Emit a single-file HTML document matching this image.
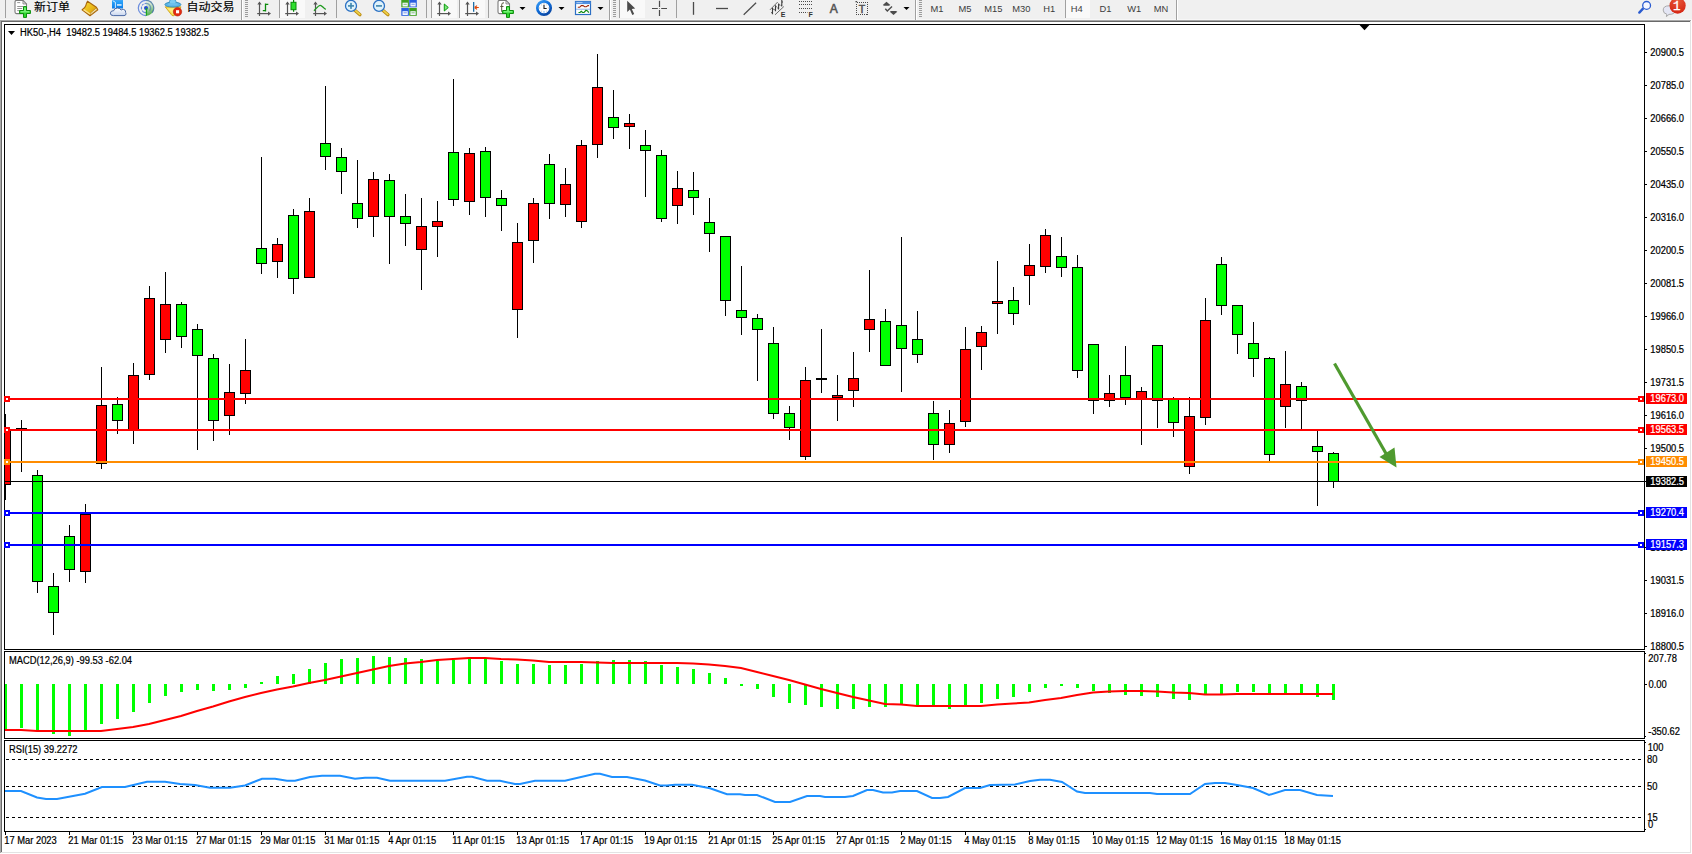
<!DOCTYPE html>
<html lang="zh"><head><meta charset="utf-8"><title>HK50-,H4</title>
<style>html,body{margin:0;padding:0;background:#fff;overflow:hidden}body{width:1692px;height:854px}svg{display:block}text{white-space:pre}</style></head>
<body>
<svg width="1692" height="854" viewBox="0 0 1692 854" font-family='"Liberation Sans", sans-serif' font-size="9.35" shape-rendering="crispEdges">
<rect x="0" y="0" width="1692" height="854" fill="#fff"/>
<rect x="0" y="0" width="1692" height="20" fill="#f0f0f0"/>
<rect x="0" y="19" width="1692" height="1" fill="#f7f7f7"/>
<rect x="0" y="20" width="1691" height="1" fill="#a8a8a8"/>
<rect x="1" y="21" width="1689" height="1" fill="#696969"/>
<rect x="0" y="20" width="1" height="834" fill="#a8a8a8"/>
<rect x="1" y="21" width="1" height="833" fill="#696969"/>
<rect x="1690" y="21" width="1" height="832" fill="#e3e3e3"/>
<rect x="1691" y="20" width="1" height="834" fill="#ffffff"/>
<rect x="1" y="852" width="1690" height="1" fill="#e3e3e3"/>
<rect x="0" y="853" width="1692" height="1" fill="#ffffff"/>
<rect x="4" y="24" width="1641" height="1" fill="#000"/>
<rect x="4" y="649" width="1641" height="1" fill="#000"/>
<rect x="4" y="24" width="1" height="626" fill="#000"/>
<rect x="1644" y="24" width="1" height="626" fill="#000"/>
<rect x="4" y="651" width="1641" height="1" fill="#000"/>
<rect x="4" y="738" width="1641" height="1" fill="#000"/>
<rect x="4" y="651" width="1" height="88" fill="#000"/>
<rect x="1644" y="651" width="1" height="88" fill="#000"/>
<rect x="4" y="740" width="1641" height="1" fill="#000"/>
<rect x="4" y="831" width="1641" height="1" fill="#000"/>
<rect x="4" y="740" width="1" height="92" fill="#000"/>
<rect x="1644" y="740" width="1" height="92" fill="#000"/>
<rect x="1645" y="653" width="1" height="1" fill="#000"/>
<rect x="1645" y="736" width="1" height="1" fill="#000"/>
<rect x="1645" y="742" width="1" height="1" fill="#000"/>
<rect x="1645" y="829" width="1" height="1" fill="#000"/>
<clipPath id="cm"><rect x="5" y="25" width="1639" height="624"/></clipPath>
<g clip-path="url(#cm)">
<rect x="5" y="414" width="1" height="86" fill="#000"/>
<rect x="0" y="430" width="11" height="55" fill="#000"/>
<rect x="1" y="431" width="9" height="53" fill="#ff0000"/>
<rect x="21" y="420" width="1" height="52" fill="#000"/>
<rect x="16" y="428" width="11" height="1" fill="#000"/>
<rect x="37" y="470" width="1" height="123" fill="#000"/>
<rect x="32" y="475" width="11" height="107" fill="#000"/>
<rect x="33" y="476" width="9" height="105" fill="#00ff00"/>
<rect x="53" y="573" width="1" height="62" fill="#000"/>
<rect x="48" y="586" width="11" height="27" fill="#000"/>
<rect x="49" y="587" width="9" height="25" fill="#00ff00"/>
<rect x="69" y="525" width="1" height="57" fill="#000"/>
<rect x="64" y="536" width="11" height="34" fill="#000"/>
<rect x="65" y="537" width="9" height="32" fill="#00ff00"/>
<rect x="85" y="504" width="1" height="79" fill="#000"/>
<rect x="80" y="514" width="11" height="58" fill="#000"/>
<rect x="81" y="515" width="9" height="56" fill="#ff0000"/>
<rect x="101" y="367" width="1" height="102" fill="#000"/>
<rect x="96" y="405" width="11" height="59" fill="#000"/>
<rect x="97" y="406" width="9" height="57" fill="#ff0000"/>
<rect x="117" y="397" width="1" height="37" fill="#000"/>
<rect x="112" y="404" width="11" height="17" fill="#000"/>
<rect x="113" y="405" width="9" height="15" fill="#00ff00"/>
<rect x="133" y="363" width="1" height="81" fill="#000"/>
<rect x="128" y="375" width="11" height="55" fill="#000"/>
<rect x="129" y="376" width="9" height="53" fill="#ff0000"/>
<rect x="149" y="286" width="1" height="94" fill="#000"/>
<rect x="144" y="298" width="11" height="77" fill="#000"/>
<rect x="145" y="299" width="9" height="75" fill="#ff0000"/>
<rect x="165" y="272" width="1" height="81" fill="#000"/>
<rect x="160" y="304" width="11" height="36" fill="#000"/>
<rect x="161" y="305" width="9" height="34" fill="#ff0000"/>
<rect x="181" y="302" width="1" height="46" fill="#000"/>
<rect x="176" y="304" width="11" height="33" fill="#000"/>
<rect x="177" y="305" width="9" height="31" fill="#00ff00"/>
<rect x="197" y="324" width="1" height="126" fill="#000"/>
<rect x="192" y="329" width="11" height="27" fill="#000"/>
<rect x="193" y="330" width="9" height="25" fill="#00ff00"/>
<rect x="213" y="354" width="1" height="87" fill="#000"/>
<rect x="208" y="358" width="11" height="63" fill="#000"/>
<rect x="209" y="359" width="9" height="61" fill="#00ff00"/>
<rect x="229" y="364" width="1" height="71" fill="#000"/>
<rect x="224" y="392" width="11" height="24" fill="#000"/>
<rect x="225" y="393" width="9" height="22" fill="#ff0000"/>
<rect x="245" y="339" width="1" height="65" fill="#000"/>
<rect x="240" y="370" width="11" height="24" fill="#000"/>
<rect x="241" y="371" width="9" height="22" fill="#ff0000"/>
<rect x="261" y="157" width="1" height="117" fill="#000"/>
<rect x="256" y="248" width="11" height="16" fill="#000"/>
<rect x="257" y="249" width="9" height="14" fill="#00ff00"/>
<rect x="277" y="238" width="1" height="40" fill="#000"/>
<rect x="272" y="244" width="11" height="18" fill="#000"/>
<rect x="273" y="245" width="9" height="16" fill="#ff0000"/>
<rect x="293" y="209" width="1" height="85" fill="#000"/>
<rect x="288" y="215" width="11" height="64" fill="#000"/>
<rect x="289" y="216" width="9" height="62" fill="#00ff00"/>
<rect x="309" y="198" width="1" height="80" fill="#000"/>
<rect x="304" y="211" width="11" height="67" fill="#000"/>
<rect x="305" y="212" width="9" height="65" fill="#ff0000"/>
<rect x="325" y="86" width="1" height="84" fill="#000"/>
<rect x="320" y="143" width="11" height="14" fill="#000"/>
<rect x="321" y="144" width="9" height="12" fill="#00ff00"/>
<rect x="341" y="148" width="1" height="46" fill="#000"/>
<rect x="336" y="157" width="11" height="15" fill="#000"/>
<rect x="337" y="158" width="9" height="13" fill="#00ff00"/>
<rect x="357" y="160" width="1" height="68" fill="#000"/>
<rect x="352" y="203" width="11" height="16" fill="#000"/>
<rect x="353" y="204" width="9" height="14" fill="#00ff00"/>
<rect x="373" y="172" width="1" height="65" fill="#000"/>
<rect x="368" y="179" width="11" height="38" fill="#000"/>
<rect x="369" y="180" width="9" height="36" fill="#ff0000"/>
<rect x="389" y="174" width="1" height="90" fill="#000"/>
<rect x="384" y="180" width="11" height="37" fill="#000"/>
<rect x="385" y="181" width="9" height="35" fill="#00ff00"/>
<rect x="405" y="194" width="1" height="52" fill="#000"/>
<rect x="400" y="216" width="11" height="8" fill="#000"/>
<rect x="401" y="217" width="9" height="6" fill="#00ff00"/>
<rect x="421" y="198" width="1" height="92" fill="#000"/>
<rect x="416" y="226" width="11" height="24" fill="#000"/>
<rect x="417" y="227" width="9" height="22" fill="#ff0000"/>
<rect x="437" y="201" width="1" height="56" fill="#000"/>
<rect x="432" y="221" width="11" height="6" fill="#000"/>
<rect x="433" y="222" width="9" height="4" fill="#ff0000"/>
<rect x="453" y="79" width="1" height="127" fill="#000"/>
<rect x="448" y="152" width="11" height="48" fill="#000"/>
<rect x="449" y="153" width="9" height="46" fill="#00ff00"/>
<rect x="469" y="148" width="1" height="67" fill="#000"/>
<rect x="464" y="153" width="11" height="49" fill="#000"/>
<rect x="465" y="154" width="9" height="47" fill="#ff0000"/>
<rect x="485" y="147" width="1" height="70" fill="#000"/>
<rect x="480" y="151" width="11" height="47" fill="#000"/>
<rect x="481" y="152" width="9" height="45" fill="#00ff00"/>
<rect x="501" y="190" width="1" height="41" fill="#000"/>
<rect x="496" y="198" width="11" height="8" fill="#000"/>
<rect x="497" y="199" width="9" height="6" fill="#00ff00"/>
<rect x="517" y="223" width="1" height="115" fill="#000"/>
<rect x="512" y="242" width="11" height="68" fill="#000"/>
<rect x="513" y="243" width="9" height="66" fill="#ff0000"/>
<rect x="533" y="198" width="1" height="65" fill="#000"/>
<rect x="528" y="203" width="11" height="38" fill="#000"/>
<rect x="529" y="204" width="9" height="36" fill="#ff0000"/>
<rect x="549" y="154" width="1" height="65" fill="#000"/>
<rect x="544" y="164" width="11" height="40" fill="#000"/>
<rect x="545" y="165" width="9" height="38" fill="#00ff00"/>
<rect x="565" y="168" width="1" height="49" fill="#000"/>
<rect x="560" y="184" width="11" height="21" fill="#000"/>
<rect x="561" y="185" width="9" height="19" fill="#ff0000"/>
<rect x="581" y="140" width="1" height="88" fill="#000"/>
<rect x="576" y="145" width="11" height="77" fill="#000"/>
<rect x="577" y="146" width="9" height="75" fill="#ff0000"/>
<rect x="597" y="54" width="1" height="104" fill="#000"/>
<rect x="592" y="87" width="11" height="58" fill="#000"/>
<rect x="593" y="88" width="9" height="56" fill="#ff0000"/>
<rect x="613" y="90" width="1" height="49" fill="#000"/>
<rect x="608" y="117" width="11" height="11" fill="#000"/>
<rect x="609" y="118" width="9" height="9" fill="#00ff00"/>
<rect x="629" y="114" width="1" height="35" fill="#000"/>
<rect x="624" y="123" width="11" height="4" fill="#000"/>
<rect x="625" y="124" width="9" height="2" fill="#ff0000"/>
<rect x="645" y="130" width="1" height="67" fill="#000"/>
<rect x="640" y="145" width="11" height="6" fill="#000"/>
<rect x="641" y="146" width="9" height="4" fill="#00ff00"/>
<rect x="661" y="150" width="1" height="72" fill="#000"/>
<rect x="656" y="155" width="11" height="64" fill="#000"/>
<rect x="657" y="156" width="9" height="62" fill="#00ff00"/>
<rect x="677" y="171" width="1" height="53" fill="#000"/>
<rect x="672" y="188" width="11" height="18" fill="#000"/>
<rect x="673" y="189" width="9" height="16" fill="#ff0000"/>
<rect x="693" y="172" width="1" height="43" fill="#000"/>
<rect x="688" y="190" width="11" height="8" fill="#000"/>
<rect x="689" y="191" width="9" height="6" fill="#00ff00"/>
<rect x="709" y="198" width="1" height="54" fill="#000"/>
<rect x="704" y="222" width="11" height="12" fill="#000"/>
<rect x="705" y="223" width="9" height="10" fill="#00ff00"/>
<rect x="725" y="236" width="1" height="80" fill="#000"/>
<rect x="720" y="236" width="11" height="65" fill="#000"/>
<rect x="721" y="237" width="9" height="63" fill="#00ff00"/>
<rect x="741" y="266" width="1" height="69" fill="#000"/>
<rect x="736" y="310" width="11" height="8" fill="#000"/>
<rect x="737" y="311" width="9" height="6" fill="#00ff00"/>
<rect x="757" y="314" width="1" height="67" fill="#000"/>
<rect x="752" y="318" width="11" height="12" fill="#000"/>
<rect x="753" y="319" width="9" height="10" fill="#00ff00"/>
<rect x="773" y="327" width="1" height="92" fill="#000"/>
<rect x="768" y="343" width="11" height="71" fill="#000"/>
<rect x="769" y="344" width="9" height="69" fill="#00ff00"/>
<rect x="789" y="406" width="1" height="34" fill="#000"/>
<rect x="784" y="413" width="11" height="15" fill="#000"/>
<rect x="785" y="414" width="9" height="13" fill="#00ff00"/>
<rect x="805" y="367" width="1" height="93" fill="#000"/>
<rect x="800" y="380" width="11" height="77" fill="#000"/>
<rect x="801" y="381" width="9" height="75" fill="#ff0000"/>
<rect x="821" y="329" width="1" height="64" fill="#000"/>
<rect x="816" y="378" width="11" height="2" fill="#000"/>
<rect x="837" y="375" width="1" height="46" fill="#000"/>
<rect x="832" y="395" width="11" height="3" fill="#000"/>
<rect x="833" y="396" width="9" height="1" fill="#ff0000"/>
<rect x="853" y="352" width="1" height="55" fill="#000"/>
<rect x="848" y="378" width="11" height="13" fill="#000"/>
<rect x="849" y="379" width="9" height="11" fill="#ff0000"/>
<rect x="869" y="270" width="1" height="82" fill="#000"/>
<rect x="864" y="319" width="11" height="11" fill="#000"/>
<rect x="865" y="320" width="9" height="9" fill="#ff0000"/>
<rect x="885" y="309" width="1" height="57" fill="#000"/>
<rect x="880" y="321" width="11" height="45" fill="#000"/>
<rect x="881" y="322" width="9" height="43" fill="#00ff00"/>
<rect x="901" y="237" width="1" height="155" fill="#000"/>
<rect x="896" y="325" width="11" height="24" fill="#000"/>
<rect x="897" y="326" width="9" height="22" fill="#00ff00"/>
<rect x="917" y="311" width="1" height="52" fill="#000"/>
<rect x="912" y="339" width="11" height="16" fill="#000"/>
<rect x="913" y="340" width="9" height="14" fill="#00ff00"/>
<rect x="933" y="401" width="1" height="59" fill="#000"/>
<rect x="928" y="413" width="11" height="32" fill="#000"/>
<rect x="929" y="414" width="9" height="30" fill="#00ff00"/>
<rect x="949" y="410" width="1" height="43" fill="#000"/>
<rect x="944" y="423" width="11" height="22" fill="#000"/>
<rect x="945" y="424" width="9" height="20" fill="#ff0000"/>
<rect x="965" y="327" width="1" height="100" fill="#000"/>
<rect x="960" y="349" width="11" height="73" fill="#000"/>
<rect x="961" y="350" width="9" height="71" fill="#ff0000"/>
<rect x="981" y="326" width="1" height="44" fill="#000"/>
<rect x="976" y="332" width="11" height="15" fill="#000"/>
<rect x="977" y="333" width="9" height="13" fill="#ff0000"/>
<rect x="997" y="261" width="1" height="73" fill="#000"/>
<rect x="992" y="301" width="11" height="3" fill="#000"/>
<rect x="993" y="302" width="9" height="1" fill="#ff0000"/>
<rect x="1013" y="287" width="1" height="38" fill="#000"/>
<rect x="1008" y="300" width="11" height="14" fill="#000"/>
<rect x="1009" y="301" width="9" height="12" fill="#00ff00"/>
<rect x="1029" y="244" width="1" height="61" fill="#000"/>
<rect x="1024" y="265" width="11" height="11" fill="#000"/>
<rect x="1025" y="266" width="9" height="9" fill="#ff0000"/>
<rect x="1045" y="229" width="1" height="44" fill="#000"/>
<rect x="1040" y="235" width="11" height="32" fill="#000"/>
<rect x="1041" y="236" width="9" height="30" fill="#ff0000"/>
<rect x="1061" y="237" width="1" height="40" fill="#000"/>
<rect x="1056" y="256" width="11" height="12" fill="#000"/>
<rect x="1057" y="257" width="9" height="10" fill="#00ff00"/>
<rect x="1077" y="255" width="1" height="123" fill="#000"/>
<rect x="1072" y="267" width="11" height="104" fill="#000"/>
<rect x="1073" y="268" width="9" height="102" fill="#00ff00"/>
<rect x="1093" y="344" width="1" height="70" fill="#000"/>
<rect x="1088" y="344" width="11" height="57" fill="#000"/>
<rect x="1089" y="345" width="9" height="55" fill="#00ff00"/>
<rect x="1109" y="375" width="1" height="32" fill="#000"/>
<rect x="1104" y="393" width="11" height="8" fill="#000"/>
<rect x="1105" y="394" width="9" height="6" fill="#ff0000"/>
<rect x="1125" y="346" width="1" height="59" fill="#000"/>
<rect x="1120" y="375" width="11" height="23" fill="#000"/>
<rect x="1121" y="376" width="9" height="21" fill="#00ff00"/>
<rect x="1141" y="387" width="1" height="58" fill="#000"/>
<rect x="1136" y="391" width="11" height="8" fill="#000"/>
<rect x="1137" y="392" width="9" height="6" fill="#ff0000"/>
<rect x="1157" y="345" width="1" height="83" fill="#000"/>
<rect x="1152" y="345" width="11" height="56" fill="#000"/>
<rect x="1153" y="346" width="9" height="54" fill="#00ff00"/>
<rect x="1173" y="397" width="1" height="40" fill="#000"/>
<rect x="1168" y="399" width="11" height="24" fill="#000"/>
<rect x="1169" y="400" width="9" height="22" fill="#00ff00"/>
<rect x="1189" y="397" width="1" height="77" fill="#000"/>
<rect x="1184" y="416" width="11" height="51" fill="#000"/>
<rect x="1185" y="417" width="9" height="49" fill="#ff0000"/>
<rect x="1205" y="298" width="1" height="127" fill="#000"/>
<rect x="1200" y="320" width="11" height="98" fill="#000"/>
<rect x="1201" y="321" width="9" height="96" fill="#ff0000"/>
<rect x="1221" y="257" width="1" height="58" fill="#000"/>
<rect x="1216" y="264" width="11" height="42" fill="#000"/>
<rect x="1217" y="265" width="9" height="40" fill="#00ff00"/>
<rect x="1237" y="305" width="1" height="49" fill="#000"/>
<rect x="1232" y="305" width="11" height="30" fill="#000"/>
<rect x="1233" y="306" width="9" height="28" fill="#00ff00"/>
<rect x="1253" y="322" width="1" height="55" fill="#000"/>
<rect x="1248" y="343" width="11" height="16" fill="#000"/>
<rect x="1249" y="344" width="9" height="14" fill="#00ff00"/>
<rect x="1269" y="357" width="1" height="104" fill="#000"/>
<rect x="1264" y="358" width="11" height="97" fill="#000"/>
<rect x="1265" y="359" width="9" height="95" fill="#00ff00"/>
<rect x="1285" y="351" width="1" height="77" fill="#000"/>
<rect x="1280" y="384" width="11" height="23" fill="#000"/>
<rect x="1281" y="385" width="9" height="21" fill="#ff0000"/>
<rect x="1301" y="382" width="1" height="47" fill="#000"/>
<rect x="1296" y="386" width="11" height="15" fill="#000"/>
<rect x="1297" y="387" width="9" height="13" fill="#00ff00"/>
<rect x="1317" y="430" width="1" height="76" fill="#000"/>
<rect x="1312" y="446" width="11" height="6" fill="#000"/>
<rect x="1313" y="447" width="9" height="4" fill="#00ff00"/>
<rect x="1333" y="452" width="1" height="36" fill="#000"/>
<rect x="1328" y="453" width="11" height="29" fill="#000"/>
<rect x="1329" y="454" width="9" height="27" fill="#00ff00"/>
<rect x="5" y="398" width="1639" height="2" fill="#ff0000"/>
<rect x="5" y="429" width="1639" height="2" fill="#ff0000"/>
<rect x="5" y="461" width="1639" height="2" fill="#ff8c00"/>
<rect x="5" y="512" width="1639" height="2" fill="#0000ff"/>
<rect x="5" y="544" width="1639" height="2" fill="#0000ff"/>
<rect x="5" y="481" width="1639" height="1" fill="#000"/>
</g>
<rect x="4" y="396" width="6" height="6" fill="#ff0000"/>
<rect x="6" y="398" width="2" height="2" fill="#fff"/>
<rect x="1638" y="396" width="6" height="6" fill="#ff0000"/>
<rect x="1640" y="398" width="2" height="2" fill="#fff"/>
<rect x="4" y="427" width="6" height="6" fill="#ff0000"/>
<rect x="6" y="429" width="2" height="2" fill="#fff"/>
<rect x="1638" y="427" width="6" height="6" fill="#ff0000"/>
<rect x="1640" y="429" width="2" height="2" fill="#fff"/>
<rect x="4" y="459" width="6" height="6" fill="#ff8c00"/>
<rect x="6" y="461" width="2" height="2" fill="#fff"/>
<rect x="1638" y="459" width="6" height="6" fill="#ff8c00"/>
<rect x="1640" y="461" width="2" height="2" fill="#fff"/>
<rect x="4" y="510" width="6" height="6" fill="#0000ff"/>
<rect x="6" y="512" width="2" height="2" fill="#fff"/>
<rect x="1638" y="510" width="6" height="6" fill="#0000ff"/>
<rect x="1640" y="512" width="2" height="2" fill="#fff"/>
<rect x="4" y="542" width="6" height="6" fill="#0000ff"/>
<rect x="6" y="544" width="2" height="2" fill="#fff"/>
<rect x="1638" y="542" width="6" height="6" fill="#0000ff"/>
<rect x="1640" y="544" width="2" height="2" fill="#fff"/>
<rect x="1644" y="481" width="3" height="1" fill="#000"/>
<g shape-rendering="geometricPrecision">
<line x1="1334.5" y1="363.5" x2="1388" y2="457" stroke="#4f9a2f" stroke-width="3.2"/>
<polygon points="1396.5,467.5 1379.5,457 1394.5,447.5" fill="#4f9a2f"/>
</g>
<polygon points="8,31 15,31 11.5,35" fill="#000" shape-rendering="geometricPrecision"/>
<text transform="translate(20,36) scale(0.9350,1)" fill="#000" stroke="#000" stroke-width=".22" font-size="10">HK50-,H4&#160;&#160;19482.5 19484.5 19362.5 19382.5</text>
<polygon points="1359.6,25 1369.4,25 1364.5,30.2" fill="#000" shape-rendering="geometricPrecision"/>
<rect x="1645" y="52" width="2" height="1" fill="#000"/>
<text transform="translate(1650.3,56) scale(0.9350,1)" fill="#000" stroke="#000" stroke-width=".22" font-size="10">20900.5</text>
<rect x="1645" y="85" width="2" height="1" fill="#000"/>
<text transform="translate(1650.3,89) scale(0.9350,1)" fill="#000" stroke="#000" stroke-width=".22" font-size="10">20785.0</text>
<rect x="1645" y="118" width="2" height="1" fill="#000"/>
<text transform="translate(1650.3,122) scale(0.9350,1)" fill="#000" stroke="#000" stroke-width=".22" font-size="10">20666.0</text>
<rect x="1645" y="151" width="2" height="1" fill="#000"/>
<text transform="translate(1650.3,155) scale(0.9350,1)" fill="#000" stroke="#000" stroke-width=".22" font-size="10">20550.5</text>
<rect x="1645" y="184" width="2" height="1" fill="#000"/>
<text transform="translate(1650.3,188) scale(0.9350,1)" fill="#000" stroke="#000" stroke-width=".22" font-size="10">20435.0</text>
<rect x="1645" y="217" width="2" height="1" fill="#000"/>
<text transform="translate(1650.3,221) scale(0.9350,1)" fill="#000" stroke="#000" stroke-width=".22" font-size="10">20316.0</text>
<rect x="1645" y="250" width="2" height="1" fill="#000"/>
<text transform="translate(1650.3,254) scale(0.9350,1)" fill="#000" stroke="#000" stroke-width=".22" font-size="10">20200.5</text>
<rect x="1645" y="283" width="2" height="1" fill="#000"/>
<text transform="translate(1650.3,287) scale(0.9350,1)" fill="#000" stroke="#000" stroke-width=".22" font-size="10">20081.5</text>
<rect x="1645" y="316" width="2" height="1" fill="#000"/>
<text transform="translate(1650.3,320) scale(0.9350,1)" fill="#000" stroke="#000" stroke-width=".22" font-size="10">19966.0</text>
<rect x="1645" y="349" width="2" height="1" fill="#000"/>
<text transform="translate(1650.3,353) scale(0.9350,1)" fill="#000" stroke="#000" stroke-width=".22" font-size="10">19850.5</text>
<rect x="1645" y="382" width="2" height="1" fill="#000"/>
<text transform="translate(1650.3,386) scale(0.9350,1)" fill="#000" stroke="#000" stroke-width=".22" font-size="10">19731.5</text>
<rect x="1645" y="415" width="2" height="1" fill="#000"/>
<text transform="translate(1650.3,419) scale(0.9350,1)" fill="#000" stroke="#000" stroke-width=".22" font-size="10">19616.0</text>
<rect x="1645" y="448" width="2" height="1" fill="#000"/>
<text transform="translate(1650.3,452) scale(0.9350,1)" fill="#000" stroke="#000" stroke-width=".22" font-size="10">19500.5</text>
<rect x="1645" y="547" width="2" height="1" fill="#000"/>
<text transform="translate(1650.3,551) scale(0.9350,1)" fill="#000" stroke="#000" stroke-width=".22" font-size="10">19150.0</text>
<rect x="1645" y="580" width="2" height="1" fill="#000"/>
<text transform="translate(1650.3,584) scale(0.9350,1)" fill="#000" stroke="#000" stroke-width=".22" font-size="10">19031.5</text>
<rect x="1645" y="613" width="2" height="1" fill="#000"/>
<text transform="translate(1650.3,617) scale(0.9350,1)" fill="#000" stroke="#000" stroke-width=".22" font-size="10">18916.0</text>
<rect x="1645" y="646" width="2" height="1" fill="#000"/>
<text transform="translate(1650.3,650) scale(0.9350,1)" fill="#000" stroke="#000" stroke-width=".22" font-size="10">18800.5</text>
<rect x="1646" y="393" width="41" height="11" fill="#ff0000"/>
<text transform="translate(1650.3,402) scale(0.9350,1)" fill="#fff" stroke="#fff" stroke-width=".22" font-size="10">19673.0</text>
<rect x="1646" y="424" width="41" height="11" fill="#ff0000"/>
<text transform="translate(1650.3,433) scale(0.9350,1)" fill="#fff" stroke="#fff" stroke-width=".22" font-size="10">19563.5</text>
<rect x="1646" y="456" width="41" height="11" fill="#ff8c00"/>
<text transform="translate(1650.3,465) scale(0.9350,1)" fill="#fff" stroke="#fff" stroke-width=".22" font-size="10">19450.5</text>
<rect x="1646" y="476" width="41" height="11" fill="#000000"/>
<text transform="translate(1650.3,485) scale(0.9350,1)" fill="#fff" stroke="#fff" stroke-width=".22" font-size="10">19382.5</text>
<rect x="1646" y="507" width="41" height="11" fill="#0000ff"/>
<text transform="translate(1650.3,516) scale(0.9350,1)" fill="#fff" stroke="#fff" stroke-width=".22" font-size="10">19270.4</text>
<rect x="1646" y="539" width="41" height="11" fill="#0000ff"/>
<text transform="translate(1650.3,548) scale(0.9350,1)" fill="#fff" stroke="#fff" stroke-width=".22" font-size="10">19157.3</text>
<clipPath id="c2"><rect x="5" y="652" width="1639" height="86"/></clipPath>
<g clip-path="url(#c2)">
<rect x="4" y="684" width="3" height="47" fill="#00ff00"/>
<rect x="20" y="684" width="3" height="44" fill="#00ff00"/>
<rect x="36" y="684" width="3" height="47" fill="#00ff00"/>
<rect x="52" y="684" width="3" height="50" fill="#00ff00"/>
<rect x="68" y="684" width="3" height="52" fill="#00ff00"/>
<rect x="84" y="684" width="3" height="47" fill="#00ff00"/>
<rect x="100" y="684" width="3" height="40" fill="#00ff00"/>
<rect x="116" y="684" width="3" height="35" fill="#00ff00"/>
<rect x="132" y="684" width="3" height="28" fill="#00ff00"/>
<rect x="148" y="684" width="3" height="19" fill="#00ff00"/>
<rect x="164" y="684" width="3" height="12" fill="#00ff00"/>
<rect x="180" y="684" width="3" height="8" fill="#00ff00"/>
<rect x="196" y="684" width="3" height="6" fill="#00ff00"/>
<rect x="212" y="684" width="3" height="7" fill="#00ff00"/>
<rect x="228" y="684" width="3" height="6" fill="#00ff00"/>
<rect x="244" y="684" width="3" height="4" fill="#00ff00"/>
<rect x="260" y="682" width="3" height="2" fill="#00ff00"/>
<rect x="276" y="676" width="3" height="8" fill="#00ff00"/>
<rect x="292" y="674" width="3" height="10" fill="#00ff00"/>
<rect x="308" y="669" width="3" height="15" fill="#00ff00"/>
<rect x="324" y="663" width="3" height="21" fill="#00ff00"/>
<rect x="340" y="659" width="3" height="25" fill="#00ff00"/>
<rect x="356" y="658" width="3" height="26" fill="#00ff00"/>
<rect x="372" y="656" width="3" height="28" fill="#00ff00"/>
<rect x="388" y="657" width="3" height="27" fill="#00ff00"/>
<rect x="404" y="658" width="3" height="26" fill="#00ff00"/>
<rect x="420" y="659" width="3" height="25" fill="#00ff00"/>
<rect x="436" y="661" width="3" height="23" fill="#00ff00"/>
<rect x="452" y="660" width="3" height="24" fill="#00ff00"/>
<rect x="468" y="659" width="3" height="25" fill="#00ff00"/>
<rect x="484" y="659" width="3" height="25" fill="#00ff00"/>
<rect x="500" y="661" width="3" height="23" fill="#00ff00"/>
<rect x="516" y="664" width="3" height="20" fill="#00ff00"/>
<rect x="532" y="664" width="3" height="20" fill="#00ff00"/>
<rect x="548" y="665" width="3" height="19" fill="#00ff00"/>
<rect x="564" y="665" width="3" height="19" fill="#00ff00"/>
<rect x="580" y="664" width="3" height="20" fill="#00ff00"/>
<rect x="596" y="661" width="3" height="23" fill="#00ff00"/>
<rect x="612" y="660" width="3" height="24" fill="#00ff00"/>
<rect x="628" y="660" width="3" height="24" fill="#00ff00"/>
<rect x="644" y="661" width="3" height="23" fill="#00ff00"/>
<rect x="660" y="665" width="3" height="19" fill="#00ff00"/>
<rect x="676" y="667" width="3" height="17" fill="#00ff00"/>
<rect x="692" y="669" width="3" height="15" fill="#00ff00"/>
<rect x="708" y="673" width="3" height="11" fill="#00ff00"/>
<rect x="724" y="678" width="3" height="6" fill="#00ff00"/>
<rect x="740" y="684" width="3" height="2" fill="#00ff00"/>
<rect x="756" y="684" width="3" height="5" fill="#00ff00"/>
<rect x="772" y="684" width="3" height="13" fill="#00ff00"/>
<rect x="788" y="684" width="3" height="19" fill="#00ff00"/>
<rect x="804" y="684" width="3" height="21" fill="#00ff00"/>
<rect x="820" y="684" width="3" height="23" fill="#00ff00"/>
<rect x="836" y="684" width="3" height="25" fill="#00ff00"/>
<rect x="852" y="684" width="3" height="25" fill="#00ff00"/>
<rect x="868" y="684" width="3" height="23" fill="#00ff00"/>
<rect x="884" y="684" width="3" height="23" fill="#00ff00"/>
<rect x="900" y="684" width="3" height="20" fill="#00ff00"/>
<rect x="916" y="684" width="3" height="21" fill="#00ff00"/>
<rect x="932" y="684" width="3" height="22" fill="#00ff00"/>
<rect x="948" y="684" width="3" height="25" fill="#00ff00"/>
<rect x="964" y="684" width="3" height="22" fill="#00ff00"/>
<rect x="980" y="684" width="3" height="19" fill="#00ff00"/>
<rect x="996" y="684" width="3" height="15" fill="#00ff00"/>
<rect x="1012" y="684" width="3" height="13" fill="#00ff00"/>
<rect x="1028" y="684" width="3" height="8" fill="#00ff00"/>
<rect x="1044" y="684" width="3" height="4" fill="#00ff00"/>
<rect x="1060" y="684" width="3" height="2" fill="#00ff00"/>
<rect x="1076" y="684" width="3" height="4" fill="#00ff00"/>
<rect x="1092" y="684" width="3" height="7" fill="#00ff00"/>
<rect x="1108" y="684" width="3" height="9" fill="#00ff00"/>
<rect x="1124" y="684" width="3" height="11" fill="#00ff00"/>
<rect x="1140" y="684" width="3" height="12" fill="#00ff00"/>
<rect x="1156" y="684" width="3" height="13" fill="#00ff00"/>
<rect x="1172" y="684" width="3" height="15" fill="#00ff00"/>
<rect x="1188" y="684" width="3" height="16" fill="#00ff00"/>
<rect x="1204" y="684" width="3" height="11" fill="#00ff00"/>
<rect x="1220" y="684" width="3" height="10" fill="#00ff00"/>
<rect x="1236" y="684" width="3" height="8" fill="#00ff00"/>
<rect x="1252" y="684" width="3" height="8" fill="#00ff00"/>
<rect x="1268" y="684" width="3" height="10" fill="#00ff00"/>
<rect x="1284" y="684" width="3" height="10" fill="#00ff00"/>
<rect x="1300" y="684" width="3" height="10" fill="#00ff00"/>
<rect x="1316" y="684" width="3" height="13" fill="#00ff00"/>
<rect x="1332" y="684" width="3" height="16" fill="#00ff00"/>
<polyline points="5,730 21,730 37,731 53,731 69,731 85,731 101,731 117,729 133,727 149,724 165,720 181,716 197,711 213,706.5 229,701.5 245,697 261,693 277,689.5 293,686.5 309,683 325,680 341,676.5 357,673 373,669.5 389,666 405,663.5 421,662 437,660 453,659 469,658 485,658 501,659 517,659.5 533,660.5 549,662 565,662 581,662 597,662.5 613,663 629,663 645,663 661,663 677,663 693,663.5 709,664.5 725,666 741,668 757,672 773,676 789,680 805,684.5 821,689 837,693 853,697 869,700.5 885,704 901,704.5 917,706 933,706 949,706 965,706 981,706 997,704.5 1013,703.5 1029,702.5 1045,700 1061,698 1077,695 1093,692.5 1109,691.5 1125,691 1141,691 1157,691.5 1173,692.5 1189,693 1205,694.5 1221,694.5 1237,694 1253,694 1269,694 1285,694 1301,694 1317,694 1333,694" fill="none" stroke="#ff0000" stroke-width="2" shape-rendering="geometricPrecision"/>
</g>
<text transform="translate(9,664) scale(0.9350,1)" fill="#000" stroke="#000" stroke-width=".22" font-size="10">MACD(12,26,9) -99.53 -62.04</text>
<text transform="translate(1648.3,662) scale(0.9350,1)" fill="#000" stroke="#000" stroke-width=".22" font-size="10">207.78</text>
<rect x="1645" y="684" width="2" height="1" fill="#000"/>
<text transform="translate(1648.5,688) scale(0.9350,1)" fill="#000" stroke="#000" stroke-width=".22" font-size="10">0.00</text>
<text transform="translate(1648.3,735) scale(0.9350,1)" fill="#000" stroke="#000" stroke-width=".22" font-size="10">-350.62</text>
<line x1="5" y1="759.5" x2="1644" y2="759.5" stroke="#000" stroke-width="1" stroke-dasharray="3 3" stroke-dashoffset="5"/>
<rect x="1639" y="759" width="1" height="1" fill="#000"/>
<line x1="5" y1="786.5" x2="1644" y2="786.5" stroke="#000" stroke-width="1" stroke-dasharray="3 3" stroke-dashoffset="5"/>
<rect x="1639" y="786" width="1" height="1" fill="#000"/>
<line x1="5" y1="817.5" x2="1644" y2="817.5" stroke="#000" stroke-width="1" stroke-dasharray="3 3" stroke-dashoffset="5"/>
<rect x="1639" y="817" width="1" height="1" fill="#000"/>
<polyline points="5,791 21,791 37,797.5 46,799 57,799 85,793.75 102,787 125,787 147,781.75 165,781.75 180,784 195,785 210,787.75 230,787.75 245,785.5 262,778.75 275,778.75 287,780.75 295,780.75 310,777 322,775.75 340,775.75 355,778.75 365,777.75 377,777.75 390,780.75 445,780.75 467,776.75 472,776.75 487,780.75 500,780.75 515,784 520,784 535,780.75 565,780.75 595,773.75 600,773.75 612,777 627,777 645,780.5 660,785.5 667,785.5 675,784.75 692,784.75 710,788.25 727,794.25 740,794.25 745,795 757,795 775,802 790,802 807,796 820,796 825,797 845,797 853,796 867,790 873,790 883,792.5 892,792.5 900,791 917,791 932,798 940,798 948,797 965,788 980,788 990,785 1015,784.5 1030,781 1040,779.75 1050,779.75 1062,782 1077,791.5 1085,793 1150,793 1157,794 1190,794 1205,784 1215,783 1225,783 1237,785 1253,788 1269,795 1285,790 1300,790 1317,795 1333,796" fill="none" stroke="#1e90ff" stroke-width="2" shape-rendering="geometricPrecision"/>
<text transform="translate(9,753) scale(0.9350,1)" fill="#000" stroke="#000" stroke-width=".22" font-size="10">RSI(15) 39.2272</text>
<text transform="translate(1647.8,751) scale(0.9350,1)" fill="#000" stroke="#000" stroke-width=".22" font-size="10">100</text>
<text transform="translate(1647.0,763) scale(0.9350,1)" fill="#000" stroke="#000" stroke-width=".22" font-size="10">80</text>
<text transform="translate(1647.0,790) scale(0.9350,1)" fill="#000" stroke="#000" stroke-width=".22" font-size="10">50</text>
<text transform="translate(1647.3,821) scale(0.9350,1)" fill="#000" stroke="#000" stroke-width=".22" font-size="10">15</text>
<text transform="translate(1648.0,828) scale(0.9350,1)" fill="#000" stroke="#000" stroke-width=".22" font-size="10">0</text>
<rect x="5" y="832" width="1" height="3" fill="#000"/>
<text transform="translate(4.3,844) scale(0.9350,1)" fill="#000" stroke="#000" stroke-width=".22" font-size="10">17 Mar 2023</text>
<rect x="69" y="832" width="1" height="3" fill="#000"/>
<text transform="translate(68.3,844) scale(0.9350,1)" fill="#000" stroke="#000" stroke-width=".22" font-size="10">21 Mar 01:15</text>
<rect x="133" y="832" width="1" height="3" fill="#000"/>
<text transform="translate(132.3,844) scale(0.9350,1)" fill="#000" stroke="#000" stroke-width=".22" font-size="10">23 Mar 01:15</text>
<rect x="197" y="832" width="1" height="3" fill="#000"/>
<text transform="translate(196.3,844) scale(0.9350,1)" fill="#000" stroke="#000" stroke-width=".22" font-size="10">27 Mar 01:15</text>
<rect x="261" y="832" width="1" height="3" fill="#000"/>
<text transform="translate(260.3,844) scale(0.9350,1)" fill="#000" stroke="#000" stroke-width=".22" font-size="10">29 Mar 01:15</text>
<rect x="325" y="832" width="1" height="3" fill="#000"/>
<text transform="translate(324.3,844) scale(0.9350,1)" fill="#000" stroke="#000" stroke-width=".22" font-size="10">31 Mar 01:15</text>
<rect x="389" y="832" width="1" height="3" fill="#000"/>
<text transform="translate(388.3,844) scale(0.9350,1)" fill="#000" stroke="#000" stroke-width=".22" font-size="10">4 Apr 01:15</text>
<rect x="453" y="832" width="1" height="3" fill="#000"/>
<text transform="translate(452.3,844) scale(0.9350,1)" fill="#000" stroke="#000" stroke-width=".22" font-size="10">11 Apr 01:15</text>
<rect x="517" y="832" width="1" height="3" fill="#000"/>
<text transform="translate(516.3,844) scale(0.9350,1)" fill="#000" stroke="#000" stroke-width=".22" font-size="10">13 Apr 01:15</text>
<rect x="581" y="832" width="1" height="3" fill="#000"/>
<text transform="translate(580.3,844) scale(0.9350,1)" fill="#000" stroke="#000" stroke-width=".22" font-size="10">17 Apr 01:15</text>
<rect x="645" y="832" width="1" height="3" fill="#000"/>
<text transform="translate(644.3,844) scale(0.9350,1)" fill="#000" stroke="#000" stroke-width=".22" font-size="10">19 Apr 01:15</text>
<rect x="709" y="832" width="1" height="3" fill="#000"/>
<text transform="translate(708.3,844) scale(0.9350,1)" fill="#000" stroke="#000" stroke-width=".22" font-size="10">21 Apr 01:15</text>
<rect x="773" y="832" width="1" height="3" fill="#000"/>
<text transform="translate(772.3,844) scale(0.9350,1)" fill="#000" stroke="#000" stroke-width=".22" font-size="10">25 Apr 01:15</text>
<rect x="837" y="832" width="1" height="3" fill="#000"/>
<text transform="translate(836.3,844) scale(0.9350,1)" fill="#000" stroke="#000" stroke-width=".22" font-size="10">27 Apr 01:15</text>
<rect x="901" y="832" width="1" height="3" fill="#000"/>
<text transform="translate(900.3,844) scale(0.9350,1)" fill="#000" stroke="#000" stroke-width=".22" font-size="10">2 May 01:15</text>
<rect x="965" y="832" width="1" height="3" fill="#000"/>
<text transform="translate(964.3,844) scale(0.9350,1)" fill="#000" stroke="#000" stroke-width=".22" font-size="10">4 May 01:15</text>
<rect x="1029" y="832" width="1" height="3" fill="#000"/>
<text transform="translate(1028.3,844) scale(0.9350,1)" fill="#000" stroke="#000" stroke-width=".22" font-size="10">8 May 01:15</text>
<rect x="1093" y="832" width="1" height="3" fill="#000"/>
<text transform="translate(1092.3,844) scale(0.9350,1)" fill="#000" stroke="#000" stroke-width=".22" font-size="10">10 May 01:15</text>
<rect x="1157" y="832" width="1" height="3" fill="#000"/>
<text transform="translate(1156.3,844) scale(0.9350,1)" fill="#000" stroke="#000" stroke-width=".22" font-size="10">12 May 01:15</text>
<rect x="1221" y="832" width="1" height="3" fill="#000"/>
<text transform="translate(1220.3,844) scale(0.9350,1)" fill="#000" stroke="#000" stroke-width=".22" font-size="10">16 May 01:15</text>
<rect x="1285" y="832" width="1" height="3" fill="#000"/>
<text transform="translate(1284.3,844) scale(0.9350,1)" fill="#000" stroke="#000" stroke-width=".22" font-size="10">18 May 01:15</text>
<g shape-rendering="geometricPrecision">
<rect x="5" y="0" width="1" height="18" fill="#a0a0a0"/>
<path d="M16.5,0.4 h6.5 l3.5,3.5 v8.200 q0,1.5 -1.5,1.5 h-8.500 q-1.5,0 -1.5,-1.5 v-10.200 q0,-1.5 1.5,-1.5z" fill="#fff" stroke="#7b7b7b" stroke-width="1.1"/>
<path d="M23,0.4 v3.500 h3.500" fill="none" stroke="#7b7b7b" stroke-width=".9"/>
<rect x="17.2" y="2.2" width="3" height="0.9" fill="#8a8a8a"/>
<rect x="17.2" y="6" width="6" height="0.9" fill="#8a8a8a"/>
<rect x="17.2" y="8" width="5" height="0.9" fill="#8a8a8a"/>
<rect x="17.2" y="10.2" width="2.5" height="0.9" fill="#8a8a8a"/>
<path d="M23.5,6.6h3v3.900h3.900v3h-3.900v3.900h-3v-3.900h-3.900v-3h3.900z" fill="#2fd62f" stroke="#0b8f0b" stroke-width="1" stroke-linejoin="round"/>
<path d="M24.1,7.4h1.800v3.500h3.500v1.600h-8.800v-1.600h3.500z" fill="#8dfb8d" opacity=".75"/>
<text transform="translate(34,10.600) scale(1,0.93)" font-size="12" fill="#000" stroke="#000" stroke-width=".15" font-family='"Liberation Sans","Noto Sans CJK SC",sans-serif'>新订单</text>
<defs><linearGradient id="gold" x1="0" y1="0" x2="1" y2="1"><stop offset="0" stop-color="#f7dc3a"/><stop offset=".55" stop-color="#e9b817"/><stop offset="1" stop-color="#b9770e"/></linearGradient><linearGradient id="cl" x1="0" y1="0" x2="0" y2="1"><stop offset="0" stop-color="#fff"/><stop offset="1" stop-color="#c9d6ee"/></linearGradient><linearGradient id="bl" x1="0" y1="0" x2="0" y2="1"><stop offset="0" stop-color="#35b0ff"/><stop offset="1" stop-color="#0a7be8"/></linearGradient><radialGradient id="badge" cx=".5" cy=".2" r=".9"><stop offset="0" stop-color="#e8583a"/><stop offset="1" stop-color="#d21f0e"/></radialGradient></defs>
<path d="M87.5,1.2 L96.4,7.2 L97.8,9.8 L90,15.7 L82.1,9.8 Q85.3,7.6 85.8,5.6 Q86.3,3 87.5,1.2 Z" fill="url(#gold)" stroke="#a8660c" stroke-width="1.1" stroke-linejoin="round"/>
<path d="M96.3,7.9 L97.2,9.7 L90.4,14.9 L90.2,13.3 Z" fill="#efe2a8" stroke="#a8660c" stroke-width=".5"/>
<path d="M83.6,9.6 L90,14" fill="none" stroke="#fbe28c" stroke-width="1.3"/>
<path d="M112,-1 h11 v9.500 h-11z" fill="url(#bl)"/>
<path d="M112,-1 h10.500 v1.300 h-10.500z" fill="#7f8fe0" opacity=".7"/>
<path d="M112.600,0.600 L115.400,2.300 V9" stroke="#e4f4ff" stroke-width=".9" fill="none"/>
<rect x="117" y="4.200" width="4.600" height="1.500" fill="#e4f4ff"/>
<path d="M113.300,15.600 q-3.100,0 -2.900,-2.500 q.2,-2.300 2.600,-2.300 q.2,0 .5,.1 q.8,-2.900 4,-2.900 q2.600,0 3.600,2.100 q.9,-.9 2.300,-.7 q2.300,.4 2.300,2.700 q0,.3 -.1,.6 q.5,.6 .4,1.300 q-.2,1.600 -2,1.600z" fill="url(#cl)" stroke="#4a68a4" stroke-width="1"/>
<defs><linearGradient id="sg" x1="0" y1="0" x2="0.2" y2="1"><stop offset="0" stop-color="#dfeee0" stop-opacity=".35"/><stop offset=".45" stop-color="#a9d3a9" stop-opacity=".8"/><stop offset="1" stop-color="#2f9f2f"/></linearGradient></defs>
<path d="M146,8 L146,0.300 A7.700,7.700 0 0 1 146,15.700 Z" fill="url(#sg)" opacity=".85"/>
<g fill="none" stroke-width="1.2"><path d="M146,0.300 A7.700,7.700 0 0 0 146,15.700" stroke="#4a74d8" opacity=".8"/><path d="M146,3.400 A4.600,4.600 0 0 0 146,12.600" stroke="#4a74d8" opacity=".8"/><path d="M146,0.300 A7.700,7.700 0 0 1 152,12.800" stroke="#3d6f9f" opacity=".8"/><path d="M146,3.400 A4.600,4.600 0 0 1 149.500,11" stroke="#4f86a8" opacity=".7"/></g>
<path d="M140.800,10.500 L143.300,9.300 M140.800,5.500 L143.300,6.700 M143.200,2.200 L144.500,4.500" stroke="#f0f0f0" stroke-width="1.1"/>
<circle cx="146" cy="7.900" r="2" fill="#2450d0"/>
<rect x="145.800" y="8" width="1.300" height="7.700" fill="#1fa51f"/>
<path d="M165.200,6.800 L180.900,6.800 L179.800,10 L174,15.800 L172,15.500 Z" fill="#f7da4a" stroke="#c99c10" stroke-width=".8"/>
<path d="M167,8.200 L178,8.200 L173,14 Z" fill="#fdf08a" opacity=".8"/>
<ellipse cx="172.900" cy="4.600" rx="8" ry="2.500" fill="#5ab4e6" stroke="#2f8ab8" stroke-width=".9"/>
<ellipse cx="172.700" cy="2" rx="3.500" ry="2.800" fill="#7acbf2" stroke="#2f8ab8" stroke-width=".6"/>
<ellipse cx="172.900" cy="4.300" rx="5" ry="1.300" fill="#6cc0ec"/>
<circle cx="177.500" cy="11.800" r="4.200" fill="#e32b10" stroke="#b81c08" stroke-width=".6"/>
<rect x="176" y="10.200" width="3.100" height="3.100" fill="#fff"/>
<text transform="translate(186.500,10.600) scale(1,0.93)" font-size="12" fill="#000" stroke="#000" stroke-width=".15" font-family='"Liberation Sans","Noto Sans CJK SC",sans-serif'>自动交易</text>
<rect x="241" y="0" width="1" height="20" fill="#a0a0a0"/>
<rect x="242" y="0" width="1" height="20" fill="#fff"/>
<rect x="245" y="0" width="3" height="1" fill="#9c9c9c"/>
<rect x="245" y="2" width="3" height="1" fill="#9c9c9c"/>
<rect x="245" y="4" width="3" height="1" fill="#9c9c9c"/>
<rect x="245" y="6" width="3" height="1" fill="#9c9c9c"/>
<rect x="245" y="8" width="3" height="1" fill="#9c9c9c"/>
<rect x="245" y="10" width="3" height="1" fill="#9c9c9c"/>
<rect x="245" y="12" width="3" height="1" fill="#9c9c9c"/>
<rect x="245" y="14" width="3" height="1" fill="#9c9c9c"/>
<rect x="245" y="16" width="3" height="1" fill="#9c9c9c"/>
<g stroke="#555" stroke-width="1.2" fill="#555"><line x1="259.5" y1="3" x2="259.5" y2="16"/><line x1="257.2" y1="13.6" x2="269" y2="13.6"/><polygon points="259.5,1.6 257.3,4.6 261.7,4.6" stroke="none"/><polygon points="271,13.6 268,11.4 268,15.8" stroke="none"/></g>
<path d="M265.500,3.400 V11.600 M265.500,4.300 H268.300 M262.800,10.600 H265.500" stroke="#0a8a0a" stroke-width="1.300" fill="none"/>
<rect x="279" y="0" width="26" height="18" fill="#f9f9f9"/>
<rect x="279" y="0" width="1" height="18" fill="#a0a0a0"/>
<g stroke="#555" stroke-width="1.2" fill="#555"><line x1="287.5" y1="3" x2="287.5" y2="16"/><line x1="285.2" y1="13.6" x2="297" y2="13.6"/><polygon points="287.5,1.6 285.3,4.6 289.7,4.6" stroke="none"/><polygon points="299,13.6 296,11.4 296,15.8" stroke="none"/></g>
<rect x="293" y="-1" width="1.200" height="12.800" fill="#0a8a0a"/>
<rect x="291" y="2.300" width="5" height="7.400" fill="#2fe02f" stroke="#0a8a0a" stroke-width="1"/>
<g stroke="#555" stroke-width="1.2" fill="#555"><line x1="315.5" y1="3" x2="315.5" y2="16"/><line x1="313.2" y1="13.6" x2="325" y2="13.6"/><polygon points="315.5,1.6 313.3,4.6 317.7,4.6" stroke="none"/><polygon points="327,13.6 324,11.4 324,15.8" stroke="none"/></g>
<path d="M314,10.800 C317,7.500 318.500,5.200 320.300,5.300 C322,5.400 323.500,8.500 325.800,9.300" stroke="#1f9a1f" stroke-width="1.300" fill="none"/>
<rect x="336" y="0" width="1" height="18" fill="#a0a0a0"/>
<line x1="354.8" y1="10.200" x2="360" y2="14.800" stroke="#b98a10" stroke-width="3.200" stroke-linecap="round"/>
<line x1="355.2" y1="10.300" x2="359.8" y2="14.400" stroke="#f0d24a" stroke-width="1.600" stroke-linecap="round"/>
<circle cx="351" cy="5.900" r="5.500" fill="#dff2fb" stroke="#2c72c4" stroke-width="1.300"/>
<rect x="348" y="5.100" width="6" height="1.600" fill="#3f85ad"/>
<rect x="350.2" y="2.900" width="1.600" height="6" fill="#3f85ad"/>
<line x1="382.8" y1="10.200" x2="388" y2="14.800" stroke="#b98a10" stroke-width="3.200" stroke-linecap="round"/>
<line x1="383.2" y1="10.300" x2="387.8" y2="14.400" stroke="#f0d24a" stroke-width="1.600" stroke-linecap="round"/>
<circle cx="379" cy="5.900" r="5.500" fill="#dff2fb" stroke="#2c72c4" stroke-width="1.300"/>
<rect x="376" y="5.100" width="6" height="1.600" fill="#3f85ad"/>
<rect x="401.3" y="-0.5" width="7.600" height="7.800" fill="#3fa01f"/>
<rect x="402.5" y="2.7" width="5.300" height="3.800" fill="#f3f7ff"/>
<rect x="403.5" y="3.8" width="3.300" height="1" fill="#3fa01f" opacity=".6"/>
<rect x="409.2" y="-0.5" width="7.600" height="7.800" fill="#2a5fe0"/>
<rect x="410.4" y="2.7" width="5.300" height="3.800" fill="#f3f7ff"/>
<rect x="411.4" y="3.8" width="3.300" height="1" fill="#2a5fe0" opacity=".6"/>
<rect x="401.3" y="8" width="7.600" height="7.800" fill="#2a5fe0"/>
<rect x="402.5" y="11.2" width="5.300" height="3.800" fill="#f3f7ff"/>
<rect x="403.5" y="12.3" width="3.300" height="1" fill="#2a5fe0" opacity=".6"/>
<rect x="409.2" y="8" width="7.600" height="7.800" fill="#3fa01f"/>
<rect x="410.4" y="11.2" width="5.300" height="3.800" fill="#f3f7ff"/>
<rect x="411.4" y="12.3" width="3.300" height="1" fill="#3fa01f" opacity=".6"/>
<rect x="426" y="0" width="1" height="18" fill="#a0a0a0"/>
<rect x="431" y="0" width="26" height="18" fill="#f9f9f9"/>
<rect x="431" y="0" width="1" height="18" fill="#a0a0a0"/>
<g stroke="#555" stroke-width="1.2" fill="#555"><line x1="439.5" y1="3" x2="439.5" y2="16"/><line x1="437.2" y1="13.6" x2="449" y2="13.6"/><polygon points="439.5,1.6 437.3,4.6 441.7,4.6" stroke="none"/><polygon points="451,13.6 448,11.4 448,15.8" stroke="none"/></g>
<polygon points="444.300,4 448.300,7.500 444.300,11" fill="#7de87d" stroke="#0a9a0a" stroke-width="1"/>
<rect x="459" y="0" width="26" height="18" fill="#f9f9f9"/>
<rect x="459" y="0" width="1" height="18" fill="#a0a0a0"/>
<g stroke="#555" stroke-width="1.2" fill="#555"><line x1="467.5" y1="3" x2="467.5" y2="16"/><line x1="465.2" y1="13.6" x2="477" y2="13.6"/><polygon points="467.5,1.6 465.3,4.6 469.7,4.6" stroke="none"/><polygon points="479,13.6 476,11.4 476,15.8" stroke="none"/></g>
<rect x="473" y="2" width="1.300" height="9.800" fill="#1f6fa8"/>
<path d="M474.600,7.500 L478.800,7.500 M474.600,7.500 L477,5.600 M474.600,7.500 L477,9.400" stroke="#e0480a" stroke-width="1.200" fill="none"/>
<rect x="488" y="0" width="1" height="18" fill="#a0a0a0"/>
<path d="M499.5,0.4 h6.5 l3.5,3.5 v8.200 q0,1.5 -1.5,1.5 h-8.500 q-1.5,0 -1.5,-1.5 v-10.200 q0,-1.5 1.5,-1.5z" fill="#fff" stroke="#7b7b7b" stroke-width="1.1"/>
<path d="M506,0.4 v3.500 h3.500" fill="none" stroke="#7b7b7b" stroke-width=".9"/>
<path d="M504,2.800 q-2.300,-.3 -2.300,2 v7 M500.300,6.500 h3.200" fill="none" stroke="#55553a" stroke-width="1"/>
<path d="M506.5,6.6h3v3.900h3.900v3h-3.900v3.900h-3v-3.900h-3.900v-3h3.900z" fill="#2fd62f" stroke="#0b8f0b" stroke-width="1" stroke-linejoin="round"/>
<path d="M507.1,7.4h1.800v3.500h3.500v1.600h-8.800v-1.600h3.500z" fill="#8dfb8d" opacity=".75"/>
<polygon points="519.5,7 525.5,7 522.5,10" fill="#000"/>
<defs><linearGradient id="ck" x1="0" y1="0" x2=".6" y2="1"><stop offset="0" stop-color="#3f9ff5"/><stop offset=".5" stop-color="#0f6fdc"/><stop offset="1" stop-color="#0a4aa8"/></linearGradient></defs>
<circle cx="544" cy="8" r="6.700" fill="#fdfdfd" stroke="url(#ck)" stroke-width="2.700"/>
<path d="M544,4.800 V8.500 H546.700" stroke="#1a1a1a" stroke-width="1.100" fill="none"/>
<g fill="#9a9a9a"><rect x="543.600" y="3.200" width=".8" height=".9"/><rect x="539.300" y="7.600" width=".9" height=".8"/><rect x="547.900" y="7.600" width=".9" height=".8"/><rect x="541" y="4.600" width=".7" height=".7"/><rect x="546.400" y="4.600" width=".7" height=".7"/><rect x="541" y="10.800" width=".7" height=".7"/><rect x="546.400" y="10.800" width=".7" height=".7"/></g>
<rect x="543.200" y="11.500" width="1.600" height=".9" fill="#5aa5f0"/>
<polygon points="558.5,7 564.5,7 561.5,10" fill="#000"/>
<rect x="575.500" y="1.500" width="15" height="13" fill="#fff" stroke="#2c6fc4" stroke-width="1.200"/>
<rect x="575.500" y="1.500" width="15" height="2.600" fill="#4f8fe0"/>
<rect x="576.500" y="2.200" width="6" height=".9" fill="#cfe3fb" opacity=".8"/>
<rect x="576" y="8.700" width="14" height="1" fill="#8fb6ea"/>
<path d="M577.800,7.300 L579.600,7.300 L581.300,5.600 L583,5.600 L584.600,6.800 L586.300,6.800 L588,5.600 L589,5.600" stroke="#9c2408" stroke-width="1.100" fill="none"/>
<path d="M578.500,12.500 L580,12.500 L581.300,11.300 L582.600,12.500 L584,12.500 L586,10.300 L587.500,10.900 L588.800,12.600" stroke="#128a12" stroke-width="1.200" fill="none"/>
<polygon points="597.5,7 603.5,7 600.5,10" fill="#000"/>
<rect x="609" y="0" width="1" height="20" fill="#a0a0a0"/>
<rect x="610" y="0" width="1" height="20" fill="#fff"/>
<rect x="613" y="0" width="3" height="1" fill="#9c9c9c"/>
<rect x="613" y="2" width="3" height="1" fill="#9c9c9c"/>
<rect x="613" y="4" width="3" height="1" fill="#9c9c9c"/>
<rect x="613" y="6" width="3" height="1" fill="#9c9c9c"/>
<rect x="613" y="8" width="3" height="1" fill="#9c9c9c"/>
<rect x="613" y="10" width="3" height="1" fill="#9c9c9c"/>
<rect x="613" y="12" width="3" height="1" fill="#9c9c9c"/>
<rect x="613" y="14" width="3" height="1" fill="#9c9c9c"/>
<rect x="613" y="16" width="3" height="1" fill="#9c9c9c"/>
<rect x="619" y="0" width="26" height="18" fill="#f9f9f9"/>
<rect x="619" y="0" width="1" height="18" fill="#a0a0a0"/>
<path d="M627.200,0.800 L627.200,11.900 L629.900,9.600 L632.300,14.900 L634.200,14 L631.800,8.900 L635.200,8.600 Z" fill="#4b4b4b"/>
<path d="M659.500,0.800 V7 M659.500,10 V16 M652,8.500 H657.800 M661.200,8.500 H667" stroke="#4b4b4b" stroke-width="1.200" fill="none"/>
<rect x="659" y="8" width="1" height="1" fill="#4b4b4b" opacity=".6"/>
<rect x="676" y="0" width="1" height="18" fill="#a0a0a0"/>
<path d="M693.500,2 V14.800" stroke="#4b4b4b" stroke-width="1.300"/>
<path d="M716,8.500 H728" stroke="#4b4b4b" stroke-width="1.300"/>
<path d="M743.700,14.800 L756.100,2.700" stroke="#4b4b4b" stroke-width="1.200"/>
<g stroke="#5a5a5a" stroke-width=".9" fill="none"><path d="M770,9.800 L777.700,2"/><path d="M775,14.800 L783.900,6.500"/></g>
<g stroke="#3c3c3c" stroke-width="1.100" fill="none"><path d="M772.500,7.700 V14.200 M771.300,12.600 H772.500 M772.500,9.300 H773.700"/><path d="M775.500,5.300 V11.300 M774.300,9.800 H775.500 M775.500,6.800 H776.700"/><path d="M778.600,3.400 V9.500 M777.400,8 H778.600 M778.600,4.900 H779.800"/><path d="M781.800,-1 V6.600 M780.600,5.200 H781.800 M781.800,2 H783"/></g>
<text x="780.800" y="17" font-size="7" font-weight="bold" fill="#333">E</text>
<line x1="799" y1="1.5" x2="812.5" y2="1.5" stroke="#4b4b4b" stroke-width="1" stroke-dasharray="1 1"/>
<line x1="799" y1="4.5" x2="812.5" y2="4.5" stroke="#4b4b4b" stroke-width="1" stroke-dasharray="1 1"/>
<line x1="799" y1="8.5" x2="812.5" y2="8.5" stroke="#4b4b4b" stroke-width="1" stroke-dasharray="1 1"/>
<line x1="799" y1="12.5" x2="807.5" y2="12.5" stroke="#4b4b4b" stroke-width="1" stroke-dasharray="1 1"/>
<text x="808.600" y="16.600" font-size="7" font-weight="bold" fill="#333">F</text>
<text x="833.700" y="12.700" font-size="12" text-anchor="middle" fill="#555" stroke="#555" stroke-width=".55">A</text>
<rect x="856.500" y="2.500" width="11" height="12" fill="none" stroke="#4b4b4b" stroke-width="1" stroke-dasharray="1 1" shape-rendering="crispEdges"/>
<rect x="855.500" y="1" width="1.600" height="1.300" fill="#4b4b4b"/>
<text x="862" y="12.700" font-size="10.500" text-anchor="middle" fill="#555" stroke="#555" stroke-width=".55">T</text>
<polygon points="886.500,1.800 890.300,5 889,5.800 884,5.800 882.800,5" fill="#4b4b4b"/>
<path d="M885.300,8.800 L887.300,11 L892,6.500" stroke="#4b4b4b" stroke-width="1.400" fill="none"/>
<polygon points="893.500,15 897.300,11.800 896,11 891,11 889.800,11.800" fill="#4b4b4b"/>
<polygon points="903.5,7 909.5,7 906.5,10" fill="#000"/>
<rect x="915" y="0" width="1" height="20" fill="#a0a0a0"/>
<rect x="916" y="0" width="1" height="20" fill="#fff"/>
<rect x="919" y="0" width="3" height="1" fill="#9c9c9c"/>
<rect x="919" y="2" width="3" height="1" fill="#9c9c9c"/>
<rect x="919" y="4" width="3" height="1" fill="#9c9c9c"/>
<rect x="919" y="6" width="3" height="1" fill="#9c9c9c"/>
<rect x="919" y="8" width="3" height="1" fill="#9c9c9c"/>
<rect x="919" y="10" width="3" height="1" fill="#9c9c9c"/>
<rect x="919" y="12" width="3" height="1" fill="#9c9c9c"/>
<rect x="919" y="14" width="3" height="1" fill="#9c9c9c"/>
<rect x="919" y="16" width="3" height="1" fill="#9c9c9c"/>
<rect x="1065" y="0" width="25" height="18" fill="#f9f9f9"/>
<rect x="1065" y="0" width="1" height="18" fill="#a0a0a0"/>
<text x="937" y="12" font-size="9.35" text-anchor="middle" fill="#3c3c3c">M1</text>
<text x="965" y="12" font-size="9.35" text-anchor="middle" fill="#3c3c3c">M5</text>
<text x="993.4" y="12" font-size="9.35" text-anchor="middle" fill="#3c3c3c">M15</text>
<text x="1021.3" y="12" font-size="9.35" text-anchor="middle" fill="#3c3c3c">M30</text>
<text x="1049.3" y="12" font-size="9.35" text-anchor="middle" fill="#3c3c3c">H1</text>
<text x="1076.7" y="12" font-size="9.35" text-anchor="middle" fill="#3c3c3c">H4</text>
<text x="1105.4" y="12" font-size="9.35" text-anchor="middle" fill="#3c3c3c">D1</text>
<text x="1134.2" y="12" font-size="9.35" text-anchor="middle" fill="#3c3c3c">W1</text>
<text x="1161" y="12" font-size="9.35" text-anchor="middle" fill="#3c3c3c">MN</text>
<rect x="1176" y="0" width="1" height="20" fill="#a0a0a0"/>
<rect x="1177" y="0" width="1" height="20" fill="#fff"/>
<line x1="1643" y1="8.700" x2="1639.300" y2="12.600" stroke="#2a5bd0" stroke-width="2.400" stroke-linecap="round"/>
<circle cx="1646.600" cy="5.400" r="3.900" fill="#f4f6ff" stroke="#2a5bd0" stroke-width="1.300"/>
<path d="M1669,5.800 q-5.800,0 -5.800,4.300 q0,3.300 3.600,4.100 l-.4,2.400 l2.600,-2.200 q6.400,0 6.400,-4.300 q0,-4.300 -6.400,-4.300z" fill="#e4e6f4" stroke="#a9a9a9" stroke-width="1"/>
<circle cx="1677.600" cy="5.600" r="8.100" fill="url(#badge)"/>
<text x="1676.700" y="10" font-size="12.500" text-anchor="middle" fill="#fff" stroke="#fff" stroke-width=".35" font-family='"Liberation Mono",monospace'>1</text>
</g>
</svg>
</body></html>
